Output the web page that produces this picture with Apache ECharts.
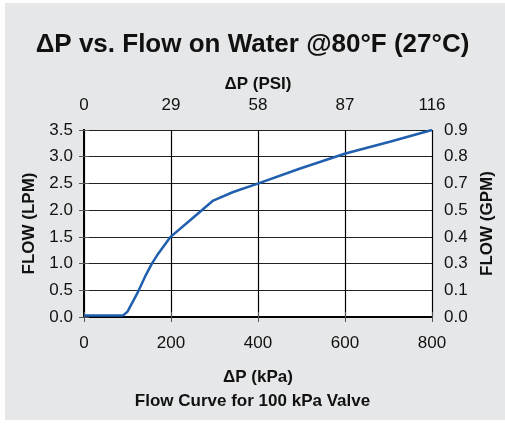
<!DOCTYPE html>
<html>
<head>
<meta charset="utf-8">
<script src="https://cdn.jsdelivr.net/npm/echarts@6/dist/echarts.min.js"></script>
<style>
  html, body { margin: 0; padding: 0; background: #fff; }
  #chart { width: 505px; height: 426px; }
</style>
</head>
<body>
<div id="chart"></div>
<script>
// flow curve, dP in kPa vs flow in LPM
const kpa = [0, 90, 100, 123, 140, 156, 171, 199, 244, 297, 343, 401, 497, 601, 703, 800]
const lpm = [0.03, 0.03, 0.1, 0.45, 0.75, 1.0, 1.19, 1.5, 1.81, 2.18, 2.34, 2.5, 2.78, 3.06, 3.28, 3.5]

// secondary axis tick labels
const psiLabels = ['0', '29', '58', '87', '116']
const gpmLabels = ['0.0', '0.1', '0.3', '0.4', '0.5', '0.7', '0.8', '0.9']

const font = 'Liberation Sans, Arial, sans-serif'
const chart = echarts.init(document.getElementById('chart'))

const axisCommon = {
  type: 'value',
  axisLine: { show: true, lineStyle: { color: '#000', width: 2 } },
  axisTick: { show: true, inside: false, length: 5, lineStyle: { color: '#555', width: 1 } },
  axisLabel: { color: '#111', fontSize: 17, fontFamily: font },
  nameTextStyle: { color: '#111', fontSize: 17, fontWeight: 'bold', fontFamily: font }
}

chart.setOption({
  backgroundColor: '#fff',
  graphic: [{
    type: 'rect',
    z: -10,
    shape: { x: 5, y: 3, width: 500, height: 417 },
    style: { fill: '#e6e7e8' }
  }],
  title: [{
    text: 'ΔP vs. Flow on Water @80°F (27°C)',
    left: 'center',
    top: 27,
    textStyle: { fontSize: 26, fontWeight: 'bold', color: '#111', fontFamily: font }
  }, {
    text: 'Flow Curve for 100 kPa Valve',
    left: 'center',
    top: 388,
    textStyle: { fontSize: 17, fontWeight: 'bold', color: '#111', fontFamily: font }
  }],
  grid: { left: 84, top: 130, width: 348, height: 187, show: true, backgroundColor: '#fff', borderWidth: 0 },
  xAxis: [{
    ...axisCommon,
    position: 'bottom',
    min: 0, max: 800, interval: 200,
    name: 'ΔP (kPa)',
    nameLocation: 'middle',
    nameGap: 52,
    axisLabel: { ...axisCommon.axisLabel, margin: 18 },
    splitLine: { show: true, lineStyle: { color: '#000', width: 1.2 } }
  }, {
    ...axisCommon,
    position: 'top',
    min: 0, max: 800, interval: 200,
    name: 'ΔP (PSI)',
    nameLocation: 'middle',
    nameGap: 37,
    axisLabel: { ...axisCommon.axisLabel, margin: 16, formatter: (v, i) => psiLabels[i] },
    splitLine: { show: false }
  }],
  yAxis: [{
    ...axisCommon,
    position: 'left',
    min: 0, max: 3.5, interval: 0.5,
    name: 'FLOW (LPM)',
    nameLocation: 'middle',
    nameGap: 46,
    axisLabel: { ...axisCommon.axisLabel, margin: 11, formatter: v => v.toFixed(1) },
    splitLine: { show: true, lineStyle: { color: '#222', width: 1.2 } }
  }, {
    ...axisCommon,
    position: 'right',
    min: 0, max: 3.5, interval: 0.5,
    name: 'FLOW (GPM)',
    nameLocation: 'middle',
    nameGap: 47,
    nameRotate: 90,
    axisLabel: { ...axisCommon.axisLabel, margin: 12, formatter: (v, i) => gpmLabels[i] },
    splitLine: { show: false }
  }],
  series: [{
    type: 'line',
    data: kpa.map((x, i) => [x, lpm[i]]),
    showSymbol: false,
    smooth: false,
    lineStyle: { color: '#1f5fae', width: 2.5 },
    z: 5
  }]
})
</script>
</body>
</html>
